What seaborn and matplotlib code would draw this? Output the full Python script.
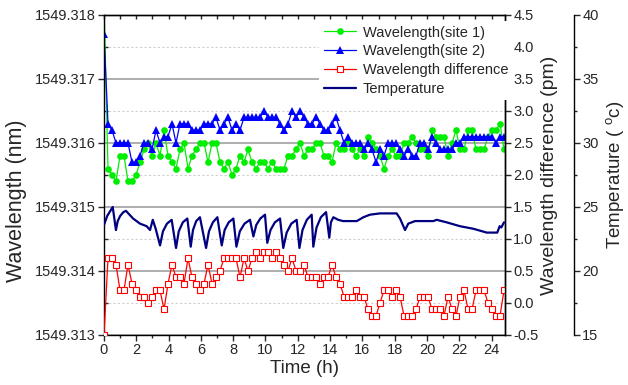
import numpy as np
import pandas as pd
import matplotlib
matplotlib.use("Agg")
import matplotlib.pyplot as plt
import seaborn as sns
from matplotlib.ticker import MultipleLocator, FormatStrFormatter

sns.set_style("ticks")
plt.rcParams["font.family"] = ["Liberation Sans", "DejaVu Sans"]
plt.rcParams["mathtext.default"] = "regular"

# ---------------- data ----------------
STEP_H = 0.2477  # sampling interval (h)

site1_nm = [
    1549.3182, 1549.3156, 1549.3155, 1549.3154, 1549.3158, 1549.3158, 1549.3154, 1549.3154,
    1549.3155, 1549.3157, 1549.3159, 1549.3160, 1549.3158, 1549.3160, 1549.3158, 1549.3162,
    1549.3158, 1549.3157, 1549.3156, 1549.3159, 1549.3160, 1549.3156, 1549.3158, 1549.3159,
    1549.3160, 1549.3160, 1549.3157, 1549.3160, 1549.3160, 1549.3157, 1549.3156, 1549.3157,
    1549.3155, 1549.3156, 1549.3158, 1549.3157, 1549.3159, 1549.3157, 1549.3156, 1549.3157,
    1549.3157, 1549.3156, 1549.3157, 1549.3156, 1549.3156, 1549.3156, 1549.3158, 1549.3158,
    1549.3159, 1549.3160, 1549.3158, 1549.3159, 1549.3159, 1549.3160, 1549.3160, 1549.3158,
    1549.3158, 1549.3157, 1549.3160, 1549.3159, 1549.3159, 1549.3160, 1549.3159, 1549.3158,
    1549.3159, 1549.3158, 1549.3161, 1549.3160, 1549.3159, 1549.3158, 1549.3156, 1549.3158,
    1549.3159, 1549.3158, 1549.3158, 1549.3160, 1549.3160, 1549.3161, 1549.3160, 1549.3159,
    1549.3159, 1549.3158, 1549.3162, 1549.3161, 1549.3161, 1549.3161, 1549.3158, 1549.3160,
    1549.3162, 1549.3159, 1549.3159, 1549.3162, 1549.3162, 1549.3159, 1549.3159, 1549.3159,
    1549.3161, 1549.3162, 1549.3162, 1549.3163, 1549.3159,
]

site2_nm = [
    1549.3177, 1549.3163, 1549.3162, 1549.3160, 1549.3160, 1549.3160, 1549.3160, 1549.3157,
    1549.3157, 1549.3158, 1549.3160, 1549.3160, 1549.3159, 1549.3162, 1549.3160, 1549.3161,
    1549.3161, 1549.3163, 1549.3160, 1549.3163, 1549.3163, 1549.3163, 1549.3162, 1549.3162,
    1549.3162, 1549.3163, 1549.3163, 1549.3163, 1549.3164, 1549.3162, 1549.3163, 1549.3164,
    1549.3162, 1549.3163, 1549.3162, 1549.3164, 1549.3164, 1549.3164, 1549.3164, 1549.3164,
    1549.3165, 1549.3164, 1549.3164, 1549.3164, 1549.3163, 1549.3162, 1549.3163, 1549.3165,
    1549.3164, 1549.3165, 1549.3164, 1549.3163, 1549.3163, 1549.3164, 1549.3163, 1549.3162,
    1549.3162, 1549.3163, 1549.3164, 1549.3162, 1549.3160, 1549.3161, 1549.3160, 1549.3160,
    1549.3160, 1549.3159, 1549.3160, 1549.3159, 1549.3157, 1549.3159, 1549.3158, 1549.3160,
    1549.3160, 1549.3160, 1549.3159, 1549.3158, 1549.3159, 1549.3158, 1549.3158, 1549.3160,
    1549.3160, 1549.3159, 1549.3161, 1549.3160, 1549.3159, 1549.3159, 1549.3159, 1549.3159,
    1549.3160, 1549.3160, 1549.3161, 1549.3161, 1549.3161, 1549.3161, 1549.3161, 1549.3161,
    1549.3161, 1549.3161, 1549.3160, 1549.3161, 1549.3161,
]

diff_pm = [
    -0.5, 0.7, 0.7, 0.6, 0.2, 0.2, 0.6, 0.3, 0.2, 0.1, 0.1, 0.0, 0.1, 0.2, 0.2, -0.1,
    0.3, 0.6, 0.4, 0.4, 0.3, 0.7, 0.4, 0.3, 0.2, 0.3, 0.6, 0.3, 0.4, 0.5, 0.7, 0.7,
    0.7, 0.7, 0.4, 0.7, 0.5, 0.7, 0.8, 0.7, 0.8, 0.8, 0.7, 0.8, 0.7, 0.6, 0.5, 0.7,
    0.5, 0.5, 0.6, 0.4, 0.4, 0.4, 0.3, 0.4, 0.4, 0.6, 0.4, 0.3, 0.1, 0.1, 0.1, 0.2,
    0.1, 0.1, -0.1, -0.2, -0.2, 0.0, 0.2, 0.2, 0.1, 0.2, 0.1, -0.2, -0.2, -0.2, -0.1,
    0.1, 0.1, 0.1, -0.1, -0.1, -0.1, -0.2, 0.1, -0.1, -0.2, 0.1, 0.2, -0.1, -0.1, 0.2,
    0.2, 0.2, 0.0, -0.1, -0.2, -0.2, 0.2,
]

temp_time_h = [
    0.00, 0.20, 0.54, 0.74, 0.85, 1.00, 1.20, 1.36, 1.80, 2.23, 2.64, 2.85, 3.02, 3.20, 3.47,
    3.65, 3.90, 4.19, 4.46, 4.63, 4.88, 5.16, 5.37, 5.51, 5.71, 5.94, 6.32, 6.50, 6.74, 7.02,
    7.29, 7.47, 7.72, 8.01, 8.20, 8.41, 8.70, 9.04, 9.25, 9.43, 9.68, 9.97, 10.11, 10.31,
    10.58, 10.90, 11.10, 11.31, 11.60, 11.93, 12.10, 12.29, 12.56, 12.86, 12.96, 13.16,
    13.43, 13.75, 13.95, 14.05, 14.20, 14.50, 14.80, 15.30, 15.65, 16.06, 16.47, 17.09,
    18.12, 18.33, 18.64, 18.84, 19.26, 20.39, 20.60, 21.22, 22.04, 22.87, 23.70, 24.35,
    24.50, 24.60, 24.77,
]

temp_c = [
    23.6, 24.3, 25.0, 23.2, 23.9, 24.3, 24.6, 24.7, 24.1, 23.7, 23.5, 23.2, 24.0, 23.3, 22.0,
    23.1, 23.7, 24.0, 21.8, 23.1, 23.8, 24.1, 21.9, 23.2, 23.9, 24.2, 21.8, 23.1, 23.8, 24.2,
    22.0, 23.2, 23.8, 24.1, 21.9, 23.1, 23.7, 24.0, 22.7, 23.6, 24.1, 24.4, 22.2, 23.2,
    23.8, 24.1, 21.8, 23.0, 23.7, 24.0, 21.8, 23.2, 24.0, 24.4, 21.9, 23.4,
    24.2, 24.6, 22.6, 23.8, 24.2, 24.0, 23.9, 23.9, 23.9, 24.2, 24.4, 24.5,
    24.5, 24.1, 23.2, 23.7, 23.9, 23.9, 24.0, 23.8, 23.5, 23.3, 23.0, 23.0,
    23.5, 23.4, 23.8,
]

time_h = np.arange(len(site1_nm)) * STEP_H
df = pd.DataFrame({"time": time_h, "site1": site1_nm, "site2": site2_nm, "diff": diff_pm})
dft = pd.DataFrame({"time": temp_time_h, "temp": temp_c})

# ---------------- figure ----------------
W, H = 628, 385
fig = plt.figure(figsize=(W / 100, H / 100), dpi=100)
L, R, T, B = 104, 505, 15, 335
ax = fig.add_axes([L / W, 1 - B / H, (R - L) / W, (B - T) / H])
ax2 = ax.twinx()
ax3 = ax.twinx()
ax3.spines["right"].set_position(("axes", (574 - L) / (R - L)))

GREEN, BLUE, RED, NAVY = "#00ee00", "#0000ff", "#ff0000", "#000080"

sns.lineplot(data=df, x="time", y="site1", ax=ax, color=GREEN, lw=0.9, marker="o",
             markersize=4.8, markeredgecolor=GREEN, markeredgewidth=0, legend=False,
             label="Wavelength(site 1)", estimator=None, sort=False)
sns.lineplot(data=df, x="time", y="site2", ax=ax, color=BLUE, lw=0.9, marker="^",
             markersize=5.8, markeredgecolor=BLUE, markeredgewidth=0, legend=False,
             label="Wavelength(site 2)", estimator=None, sort=False)
sns.lineplot(data=df, x="time", y="diff", ax=ax2, color=RED, lw=0.9, marker="s",
             markersize=3.8, markeredgecolor=RED, markerfacecolor="white",
             markeredgewidth=0.8, legend=False, label="Wavelength difference",
             estimator=None, sort=False)
sns.lineplot(data=dft, x="time", y="temp", ax=ax3, color=NAVY, lw=1.6, legend=False,
             label="Temperature", estimator=None, sort=False)

# ---------------- axes ----------------
ax.set_xlim(0, 24.83)
ax.set_ylim(1549.313, 1549.318)
ax2.set_ylim(-0.5, 4.5)
ax3.set_ylim(15, 40)

FS_T = 10.5
ax.xaxis.set_major_locator(MultipleLocator(2))
ax.xaxis.set_minor_locator(MultipleLocator(1))
ax.yaxis.set_major_locator(MultipleLocator(0.001))
ax.yaxis.set_minor_locator(MultipleLocator(0.0005))
ax.yaxis.set_major_formatter(FormatStrFormatter("%.3f"))
ax.tick_params(axis="x", which="major", direction="out", length=4, width=1, labelsize=FS_T, pad=2)
ax.tick_params(axis="x", which="minor", direction="out", length=2.5, width=1)
ax.tick_params(axis="y", which="major", direction="out", length=4, width=1, labelsize=FS_T, pad=2)
ax.tick_params(axis="y", which="minor", direction="in", length=3, width=1)

sec = ax.secondary_xaxis("top")
sec.xaxis.set_major_locator(MultipleLocator(1))
sec.tick_params(axis="x", direction="in", length=3, width=1, labeltop=False)

ax2.yaxis.set_major_locator(MultipleLocator(0.5))
ax2.yaxis.set_major_formatter(FormatStrFormatter("%.1f"))
ax2.tick_params(axis="y", which="major", direction="out", length=4, width=1, labelsize=FS_T, pad=2)

ax3.yaxis.set_major_locator(MultipleLocator(5))
ax3.yaxis.set_minor_locator(MultipleLocator(2.5))
ax3.yaxis.set_major_formatter(FormatStrFormatter("%d"))
ax3.tick_params(axis="y", which="major", direction="out", length=4, width=1, labelsize=FS_T, pad=2)
ax3.tick_params(axis="y", which="minor", direction="out", length=2.5, width=1)
for s in ("left", "top", "bottom"):
    ax3.spines[s].set_visible(False)
    ax2.spines[s].set_visible(False)

for a in (ax, ax2, ax3):
    for s in a.spines.values():
        s.set_linewidth(1.0)
        s.set_color("black")
sec.spines["top"].set_linewidth(1.0)

# grid
ax.yaxis.grid(True, which="major", color="#a8a8a8", lw=1.3, ls="-")
ax.yaxis.grid(True, which="minor", color="#cfcfcf", lw=0.8, ls=(0, (2, 2)))
ax.set_axisbelow(True)

ax.set_xlabel("Time (h)", fontsize=13.5, labelpad=2)
ax.set_ylabel("Wavelength (nm)", fontsize=15.5, labelpad=5)
ax.yaxis.set_label_coords(-0.192, 0.42)
ax2.set_ylabel("Wavelength difference (pm)", fontsize=14, labelpad=2)
ax3.set_ylabel("Temperature ( $^{o}$c)", fontsize=13.5, labelpad=4)
ax2.set_xlabel("")
ax3.set_xlabel("")

handles, labels = [], []
for a in (ax, ax2, ax3):
    h, l = a.get_legend_handles_labels()
    handles += h
    labels += l
leg = ax3.legend(handles, labels, loc="upper left",
                 bbox_to_anchor=((317 - L) / (R - L), 1.0 - 4 / (B - T)), borderaxespad=0.15,
                 fontsize=FS_T, frameon=True, fancybox=False, framealpha=1,
                 facecolor="white", edgecolor="none", handlelength=2.2,
                 handletextpad=0.5, labelspacing=0.33, borderpad=0.3)

fig.savefig("out.png", dpi=100)
